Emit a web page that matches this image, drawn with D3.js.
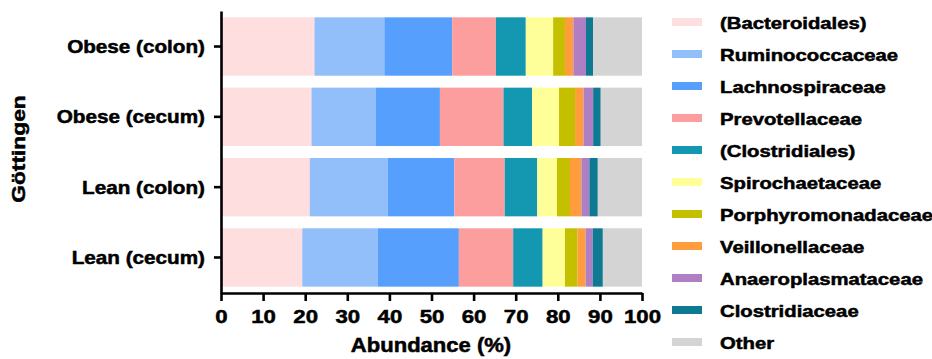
<!DOCTYPE html>
<html>
<head>
<meta charset="utf-8">
<script src="https://cdn.jsdelivr.net/npm/d3@7"></script>
<style>
  body { margin: 0; background: #fff; }
  text { font-family: "Liberation Sans", Arial, sans-serif; font-weight: bold; fill: #000;
         stroke: #000; stroke-width: 0.5px; }
</style>
</head>
<body>
<div id="chart"></div>
<script>
// groups (drawn top to bottom)
const groups = ["Obese (colon)", "Obese (cecum)", "Lean (colon)", "Lean (cecum)"];
const taxa = ["(Bacteroidales)", "Ruminococcaceae", "Lachnospiraceae", "Prevotellaceae",
  "(Clostridiales)", "Spirochaetaceae", "Porphyromonadaceae", "Veillonellaceae",
  "Anaeroplasmataceae", "Clostridiaceae", "Other"];
const colors = ["#ffdee0", "#92befa", "#569ffd", "#fd9e9e", "#1497b1", "#ffff99",
  "#c4c000", "#ff9c3c", "#b07ec2", "#0e7a92", "#d4d4d4"];

// abundance (%) per taxon, same order as taxa
const obeseColon = [22.2, 16.6, 16.1, 10.4, 7.1, 6.5, 2.8, 2.0, 3.0, 1.7, 11.6];
const obeseCecum = [21.5, 15.2, 15.3, 15.1, 6.8, 6.4, 3.8, 2.0, 2.3, 1.8, 9.8];
const leanColon  = [21.1, 18.5, 15.8, 12.0, 7.7, 4.7, 3.1, 2.7, 1.9, 2.0, 10.5];
const leanCecum  = [19.3, 17.9, 19.3, 12.9, 7.0, 5.3, 3.0, 1.9, 1.7, 2.4, 9.3];

const xTicks = [0, 10, 20, 30, 40, 50, 60, 70, 80, 90, 100];

const width = 932, height = 359;
const plotLeft = 221, plotRight = 642, plotTop = 11, plotBottom = 293;

const rows = [obeseColon, obeseCecum, leanColon, leanCecum].map((vals, i) => {
  const r = { group: groups[i] };
  taxa.forEach((t, j) => r[t] = vals[j]);
  return r;
});

const svg = d3.select("#chart").append("svg")
  .attr("width", width)
  .attr("height", height);

const x = d3.scaleLinear().domain([0, 100]).range([plotLeft, plotRight]);
const y = d3.scaleBand().domain(groups).range([plotTop, plotBottom])
  .paddingInner(0.17).paddingOuter(0.09);

const series = d3.stack().keys(taxa)(rows);

// bars
svg.append("g").selectAll("g")
  .data(series)
  .enter().append("g")
  .attr("fill", (d, i) => colors[i])
  .selectAll("rect")
  .data(d => d)
  .enter().append("rect")
  .attr("x", d => x(d[0]))
  .attr("y", d => y(d.data.group))
  .attr("width", d => x(d[1]) - x(d[0]))
  .attr("height", y.bandwidth());

// x axis
const xAxis = svg.append("g")
  .attr("transform", "translate(0," + plotBottom + ")")
  .call(d3.axisBottom(x).tickValues(xTicks).tickSize(8).tickSizeOuter(0));
xAxis.select(".domain").attr("stroke-width", 2.6);
xAxis.selectAll(".tick line").attr("stroke-width", 2.6);
xAxis.selectAll(".tick text")
  .attr("y", null).attr("dy", null)
  .attr("transform", "translate(0,30) scale(1.2,1)")
  .style("font-size", "18.5px")
  .attr("font-family", null);

// y axis
const yAxis = svg.append("g")
  .attr("transform", "translate(" + plotLeft + ",0)")
  .call(d3.axisLeft(y).tickSize(7).tickSizeOuter(0));
yAxis.select(".domain").attr("stroke-width", 2.6);
yAxis.selectAll(".tick line").attr("stroke-width", 2.6);
yAxis.selectAll(".tick text")
  .attr("x", null).attr("dy", null)
  .attr("transform", "translate(-16,6.5) scale(1.15,1)")
  .style("font-size", "18px")
  .attr("font-family", null);

// axis titles
svg.append("text")
  .attr("transform", "translate(431,352) scale(1.13,1)")
  .attr("text-anchor", "middle")
  .style("font-size", "19.5px")
  .text("Abundance (%)");

svg.append("text")
  .attr("transform", "translate(25,149) rotate(-90) scale(1.2,1)")
  .attr("text-anchor", "middle")
  .style("font-size", "19px")
  .text("Göttingen");

// legend
const legend = svg.append("g").selectAll("g")
  .data(taxa)
  .enter().append("g")
  .attr("transform", (d, i) => "translate(672," + (29 + i * 32) + ")");

legend.append("rect")
  .attr("x", 0).attr("y", -11)
  .attr("width", 30).attr("height", 8)
  .attr("fill", (d, i) => colors[i]);

legend.append("text")
  .attr("transform", "translate(48,0) scale(1.23,1)")
  .style("font-size", "16.5px")
  .text(d => d);
</script>
</body>
</html>
